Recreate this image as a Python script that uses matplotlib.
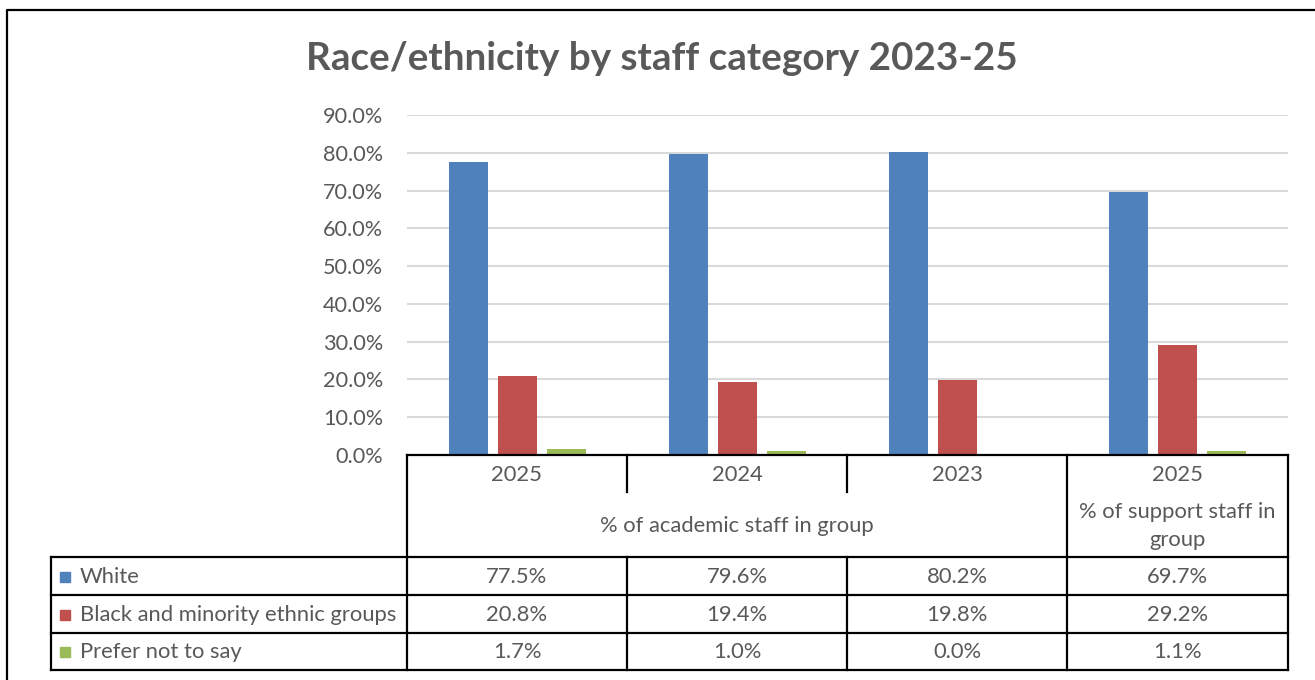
import numpy as np
import matplotlib.pyplot as plt
from matplotlib.patches import Rectangle

plt.rcParams['font.family'] = ['Lato', 'DejaVu Sans']

# Data
years = ['2025', '2024', '2023', '2025']
groups = ['% of academic staff in group', '% of support staff in\ngroup']
series = ['White', 'Black and minority ethnic groups', 'Prefer not to say']
white = [77.5, 79.6, 80.2, 69.7]
bame = [20.8, 19.4, 19.8, 29.2]
not_say = [1.7, 1.0, 0.0, 1.1]
colors = ['#4F81BD', '#C0504D', '#9BBB59']
yticks = np.arange(0, 91, 10)

txt = '#595959'
W, H = 1315, 680

fig = plt.figure(figsize=(W / 100, H / 100), dpi=100)

# bar chart area (pixel box 407..1288 x 115..455)
ax = fig.add_axes([407 / W, (H - 455) / H, 881 / W, 340 / H])
x = np.arange(len(years))
bw = 0.177
off = 0.222
for i, vals in enumerate([white, bame, not_say]):
    ax.bar(x + (i - 1) * off, vals, width=bw, color=colors[i], zorder=3)
ax.set_xlim(-0.5, len(years) - 0.5)
ax.set_ylim(0, 90)
ax.set_yticks(yticks)
ax.set_yticklabels([f'{t:.1f}%' for t in yticks], color=txt, fontsize=15.6)
ax.tick_params(axis='y', length=0, pad=17)
ax.set_xticks([])
ax.grid(axis='y', color='#D9D9D9', lw=1.5, zorder=0)
for s in ax.spines.values():
    s.set_visible(False)

# overlay in pixel coords for the frame, title and the data table
ov = fig.add_axes([0, 0, 1, 1], facecolor='none')
ov.set_xlim(0, W)
ov.set_ylim(H, 0)
ov.axis('off')

ov.plot([7, 7, W], [H, 10, 10], color='black', lw=1.6)
ov.text(662, 58, 'Race/ethnicity by staff category 2023-25', ha='center', va='center',
        fontsize=27.8, fontweight='bold', color=txt)

xs = [51, 407, 627, 847, 1067, 1288]
ys = [455, 492, 557, 595, 633, 670]
lk = dict(color='black', lw=1.6, solid_capstyle='projecting')

ov.plot([407, 1288], [455, 455], **lk)
for yy in ys[2:]:
    ov.plot([51, 1288], [yy, yy], **lk)
ov.plot([51, 51], [557, 670], **lk)
for xx in [407, 1067, 1288]:
    ov.plot([xx, xx], [455, 670], **lk)
for xx in [627, 847]:
    ov.plot([xx, xx], [455, 492], **lk)
    ov.plot([xx, xx], [557, 670], **lk)

fs = 15.8
for j, yr in enumerate(years):
    cx = (xs[j + 1] + xs[j + 2]) / 2
    ov.text(cx, 475, yr, ha='center', va='center', fontsize=fs, color=txt)
ov.text((407 + 1067) / 2, 526, groups[0], ha='center', va='center', fontsize=fs, color=txt)
ov.text((1067 + 1288) / 2, 526, groups[1], ha='center', va='center', fontsize=fs,
        color=txt, linespacing=1.55)

for r, (name, vals) in enumerate(zip(series, [white, bame, not_say])):
    cy = (ys[r + 2] + ys[r + 3]) / 2 + 1
    ov.add_patch(Rectangle((60, cy - 5.5), 10, 10, color=colors[r]))
    ov.text(80, cy, name, ha='left', va='center', fontsize=fs, color=txt)
    for j, v in enumerate(vals):
        cx = (xs[j + 1] + xs[j + 2]) / 2
        ov.text(cx, cy, f'{v:.1f}%', ha='center', va='center', fontsize=fs, color=txt)

fig.savefig('out.png', dpi=100, facecolor='white')
